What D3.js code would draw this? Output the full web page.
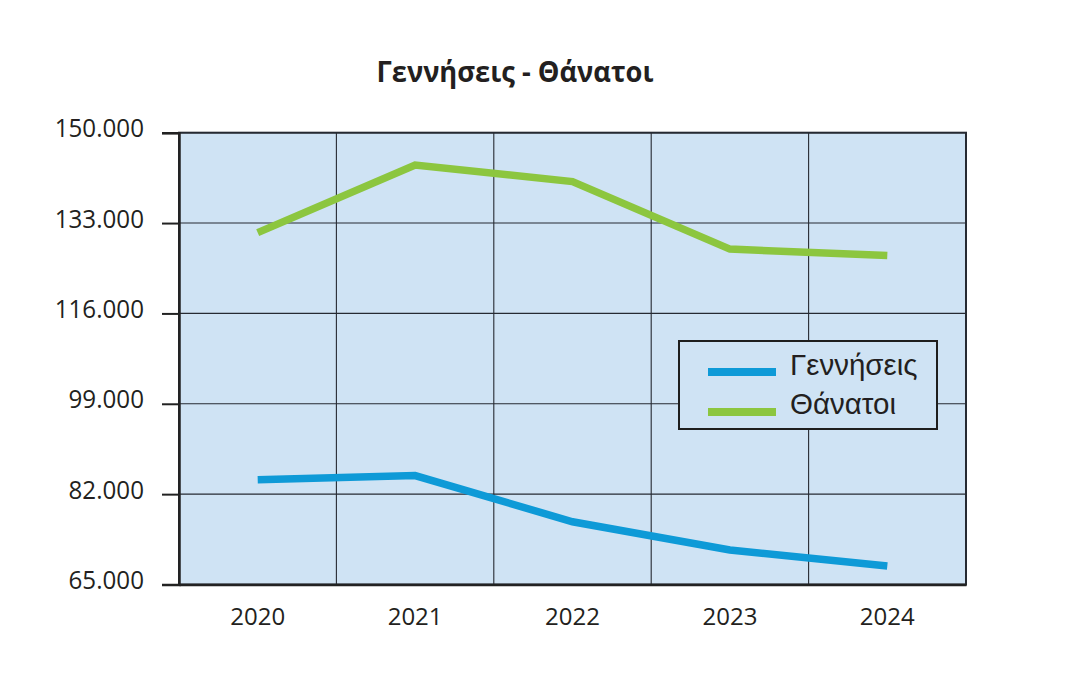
<!DOCTYPE html>
<html><head><meta charset="utf-8">
<script src="https://cdn.jsdelivr.net/npm/d3@7"></script>
<style>html,body{margin:0;padding:0;background:#fff;}</style>
</head><body>
<svg id="chart" width="1068" height="694"></svg>
<script>
const years = ["2020","2021","2022","2023","2024"];
const births = [84700, 85500, 76800, 71500, 68500];
const deaths = [131200, 143900, 140800, 128100, 126900];
const yTicks = [65000, 82000, 99000, 116000, 133000, 150000];
const seriesNames = ["Γεννήσεις", "Θάνατοι"];
const title = "Γεννήσεις - Θάνατοι";

const colors = ["#0e9ad7", "#8cc63f"];
const svg = d3.select("#chart");
const L = 179, R = 966, T = 132.7, B = 584.5;

const x = d3.scaleBand().domain(years).range([L, R]).padding(0);
const y = d3.scaleLinear().domain([65000, 150000]).range([B, T]);
const fmt = v => d3.format(",")(v).replace(/,/g, ".");

svg.append("rect").attr("x", L).attr("y", T).attr("width", R - L).attr("height", B - T).attr("fill", "#cfe3f4");

// horizontal grid
svg.append("g").selectAll("line").data(yTicks).join("line")
  .attr("x1", L).attr("x2", R).attr("y1", d => y(d)).attr("y2", d => y(d))
  .attr("stroke", "#262a32").attr("stroke-width", 1.1);
// vertical grid
svg.append("g").selectAll("line").data(years.slice(1)).join("line")
  .attr("x1", d => x(d)).attr("x2", d => x(d)).attr("y1", T).attr("y2", B)
  .attr("stroke", "#262a32").attr("stroke-width", 1.1);

// frame
svg.append("rect").attr("x", L).attr("y", T).attr("width", R - L).attr("height", B - T)
  .attr("fill", "none").attr("stroke", "#262a32").attr("stroke-width", 2);

// y axis
const yAxis = d3.axisLeft(y).tickValues(yTicks).tickFormat(fmt).tickSize(17).tickPadding(18);
const ga = svg.append("g").attr("transform", `translate(${L},0)`).call(yAxis);
ga.select(".domain").attr("stroke", "#222").attr("stroke-width", 2.5);
ga.selectAll(".tick line").attr("stroke", "#222").attr("stroke-width", 2);
ga.selectAll(".tick text").attr("font-family", "Open Sans").attr("font-size", 26)
  .attr("fill", "#231f20").attr("dy", "0.16em").attr("x", 0).attr("y", 0)
  .attr("transform", "translate(-35,0) scale(0.93,1)");

// x axis
const xAxis = d3.axisBottom(x).tickSize(0).tickPadding(40);
const gx = svg.append("g").attr("transform", `translate(0,${B})`).call(xAxis);
gx.select(".domain").attr("stroke", "#222").attr("stroke-width", 2.5);
gx.selectAll(".tick text").attr("font-family", "Open Sans").attr("font-size", 24)
  .attr("fill", "#231f20").attr("dy", "0");

// lines
const line = d3.line().x((d, i) => x(years[i]) + x.bandwidth() / 2).y(d => y(d));
[births, deaths].forEach((s, i) => {
  svg.append("path").datum(s).attr("d", line).attr("fill", "none")
    .attr("stroke", colors[i]).attr("stroke-width", 7.5).attr("stroke-linecap", "butt").attr("stroke-linejoin", "miter");
});

// legend
const lg = svg.append("g");
lg.append("rect").attr("x", 679).attr("y", 341).attr("width", 258).attr("height", 88)
  .attr("fill", "#cfe3f4").attr("stroke", "#1e1e1e").attr("stroke-width", 2);
seriesNames.forEach((n, i) => {
  const yy = 372 + i * 40;
  lg.append("line").attr("x1", 708).attr("x2", 776).attr("y1", yy).attr("y2", yy)
    .attr("stroke", colors[i]).attr("stroke-width", 8);
  lg.append("text").attr("x", 790).attr("y", yy + 3 + (i === 0 ? 0 : -1))
    .attr("font-family", "Liberation Sans").attr("font-size", 29.5).attr("fill", "#231f20").text(n);
});

// title
svg.append("text").attr("transform", "translate(515,82) scale(0.94,1)").attr("text-anchor", "middle")
  .attr("font-family", "Open Sans").attr("font-weight", "bold").attr("font-size", 29)
  .attr("fill", "#231f20").text(title);
</script>
</body></html>
